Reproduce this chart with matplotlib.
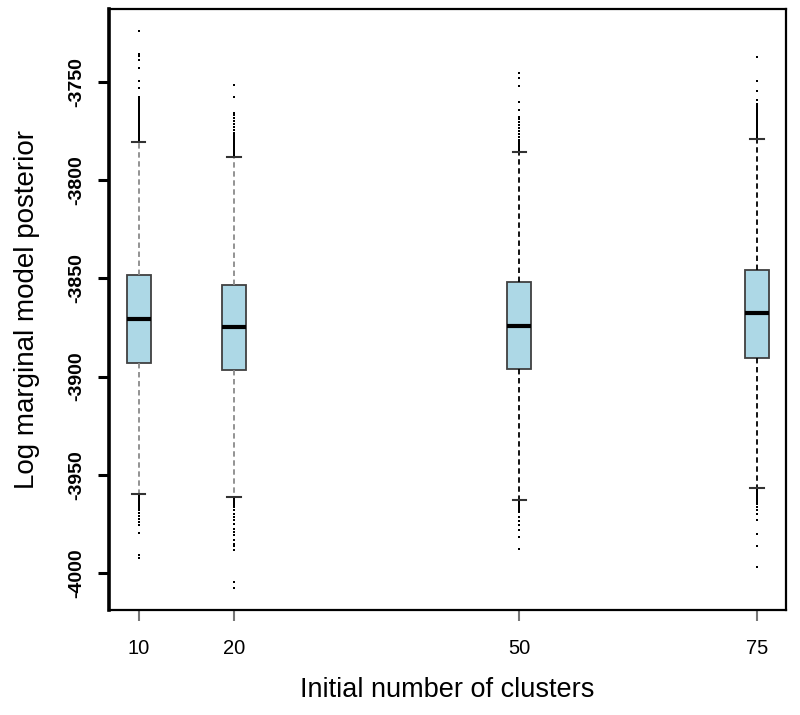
import matplotlib.pyplot as plt

plt.rcParams['font.family'] = ['Liberation Sans', 'DejaVu Sans']

positions = [10, 20, 50, 75]
tick_labels = ['10', '20', '50', '75']
medians = [-3870.8, -3874.6, -3874.1, -3867.8]
q1 = [-3892.9, -3896.6, -3896.3, -3890.4]
q3 = [-3848.3, -3853.4, -3852.0, -3845.7]
whis_lo = [-3959.9, -3961.5, -3962.8, -3956.9]
whis_hi = [-3780.4, -3788.0, -3785.8, -3779.0]

fliers_10 = [-3779.5, -3778.5, -3777.5, -3776.5, -3775.5, -3774.5, -3773.5, -3772.5,
             -3771.5, -3770.5, -3769.5, -3768.5, -3767.5, -3766.5, -3765.5, -3764.5,
             -3763.5, -3762.5, -3761.5, -3760.5, -3759.5, -3758.5, -3757.5, -3753.2,
             -3749.3, -3743.0, -3738.8, -3736.7, -3735.8, -3723.9,
             -3960.8, -3961.8, -3962.8, -3963.8, -3964.8, -3965.8, -3966.8, -3968.0,
             -3969.5, -3971.0, -3972.5, -3974.0, -3975.6, -3979.5, -3990.8, -3992.2]
fliers_20 = [-3787.0, -3786.0, -3785.0, -3784.0, -3783.0, -3782.0, -3781.0, -3780.0,
             -3779.0, -3778.0, -3777.0, -3776.1, -3774.5, -3773.0, -3771.5, -3770.0,
             -3768.5, -3767.0, -3765.8, -3757.5, -3751.5,
             -3962.4, -3963.4, -3964.4, -3965.3, -3966.2, -3968.0, -3970.0, -3971.5,
             -3973.0, -3975.0, -3977.5, -3979.0, -3980.5, -3983.0, -3985.0, -3986.5,
             -3988.3, -4004.4, -4007.8]
fliers_50 = [-3784.8, -3783.8, -3782.8, -3781.8, -3780.8, -3779.5, -3778.0, -3776.5,
             -3775.0, -3773.5, -3772.0, -3770.5, -3769.0, -3767.7, -3764.3, -3760.0,
             -3752.0, -3748.1, -3745.3,
             -3963.8, -3964.8, -3965.8, -3966.8, -3967.8, -3968.8, -3971.5, -3973.5,
             -3975.6, -3978.0, -3981.5, -3988.0]
fliers_75 = [-3778.0, -3777.0, -3776.0, -3775.0, -3774.0, -3773.0, -3772.0, -3771.0,
             -3770.0, -3769.0, -3768.0, -3767.0, -3766.0, -3765.0, -3764.0, -3763.0,
             -3762.0, -3761.0, -3759.2, -3754.6, -3749.3, -3737.1,
             -3957.9, -3958.9, -3959.9, -3960.9, -3961.9, -3962.9, -3963.9, -3964.9,
             -3966.2, -3968.0, -3970.0, -3973.0, -3980.3, -3986.1, -3997.1]
fliers = [fliers_10, fliers_20, fliers_50, fliers_75]

whisker_colors = ['#8a8a8a', '#8a8a8a', 'black', 'black']

stats = []
for i in range(len(positions)):
    stats.append({'med': medians[i], 'q1': q1[i], 'q3': q3[i],
                  'whislo': whis_lo[i], 'whishi': whis_hi[i], 'fliers': fliers[i]})

fig = plt.figure(figsize=(8, 7.15), dpi=100)
ax = fig.add_axes([0.136, 0.147, 0.8465, 0.8405])

bp = ax.bxp(stats, positions=positions, widths=2.5, patch_artist=True,
            capwidths=1.4,
            boxprops=dict(facecolor='#add8e6', edgecolor='#404040', linewidth=1.3),
            medianprops=dict(color='black', linewidth=3, solid_capstyle='butt'),
            whiskerprops=dict(linestyle=(0, (3, 2)), linewidth=1.3),
            capprops=dict(linewidth=1.5),
            flierprops=dict(marker='s', markersize=1.5, markerfacecolor='black',
                            markeredgewidth=0, linestyle='none'))
for i, c in enumerate(whisker_colors):
    bp['whiskers'][2 * i].set_color(c)
    bp['whiskers'][2 * i + 1].set_color(c)
    bp['caps'][2 * i].set_color('#333333')
    bp['caps'][2 * i + 1].set_color('#333333')

ax.set_xlim(6.85, 78.05)
ax.set_ylim(-4018.8, -3712.8)

ax.set_xticks(positions)
ax.set_xticklabels(tick_labels, fontsize=14.5)
ax.set_yticks([-3750, -3800, -3850, -3900, -3950, -4000])
ax.set_yticklabels(['-3750', '-3800', '-3850', '-3900', '-3950', '-4000'],
                   fontsize=14, fontweight='bold', rotation=90, va='center')

ax.tick_params(axis='x', length=8, width=1.5, color='#777777', pad=13)
ax.tick_params(axis='y', length=8, width=2.2, color='black', pad=9)

for s in ['top', 'right', 'bottom']:
    ax.spines[s].set_linewidth(1.6)
ax.spines['left'].set_linewidth(2.6)

ax.set_xlabel('Initial number of clusters', fontsize=19.5, va='center')
ax.set_ylabel('Log marginal model posterior', fontsize=20, va='center')
ax.xaxis.set_label_coords(0.5, -0.133)
ax.yaxis.set_label_coords(-0.121, 0.5)

fig.savefig('out.png', dpi=100)
